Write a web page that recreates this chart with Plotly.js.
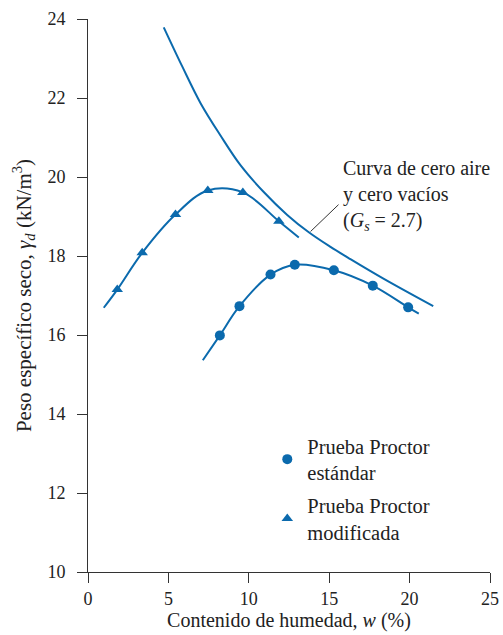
<!DOCTYPE html>
<html>
<head>
<meta charset="utf-8">
<script src="https://cdn.plot.ly/plotly-3.0.1.min.js"></script>
<style>html,body{margin:0;padding:0;background:#fff;}#chart{width:503px;height:635px;}</style>
</head>
<body>
<div id="chart"></div>
<script>
// Prueba Proctor estándar (puntos)
const stdW = [8.20, 9.42, 11.35, 12.86, 15.29, 17.71, 19.91];
const stdG = [15.99, 16.73, 17.53, 17.78, 17.64, 17.25, 16.70];
// Curva ajustada, Proctor estándar
const stdCurveW = [7.14, 8.20, 9.42, 11.35, 12.86, 15.29, 17.71, 19.91, 20.57];
const stdCurveG = [15.36, 15.99, 16.73, 17.53, 17.78, 17.64, 17.25, 16.70, 16.54];
// Prueba Proctor modificada (puntos)
const modW = [1.82, 3.37, 5.44, 7.45, 9.63, 11.87];
const modG = [17.15, 18.08, 19.05, 19.66, 19.61, 18.88];
// Curva ajustada, Proctor modificada
const modCurveW = [0.98, 1.82, 3.37, 5.44, 7.45, 9.63, 11.87, 13.11];
const modCurveG = [16.69, 17.15, 18.08, 19.05, 19.66, 19.61, 18.88, 18.47];
// Curva de cero aire y cero vacíos (Gs = 2.7)
const zavW = [4.71, 5.86, 7.00, 8.24, 9.48, 10.93, 12.39, 13.73, 15.08, 16.32, 18.40, 21.47];
const zavG = [23.79, 22.80, 21.87, 21.05, 20.30, 19.62, 19.04, 18.60, 18.23, 17.92, 17.42, 16.73];
// Ticks
const xTicks = [0, 5, 10, 15, 20, 25];
const yTicks = [10, 12, 14, 16, 18, 20, 22, 24];

const blue = '#0b6aad';
const font = 'Liberation Serif';

const traces = [
  {x: zavW, y: zavG, mode: 'lines', line: {color: blue, width: 2, shape: 'spline', smoothing: 1}, showlegend: false, hoverinfo: 'skip'},
  {x: modCurveW, y: modCurveG, mode: 'lines', line: {color: blue, width: 2, shape: 'spline'}, showlegend: false, hoverinfo: 'skip'},
  {x: stdCurveW, y: stdCurveG, mode: 'lines', line: {color: blue, width: 2, shape: 'spline'}, showlegend: false, hoverinfo: 'skip'},
  {x: stdW, y: stdG, mode: 'markers', name: 'Prueba Proctor<br>estándar', legendgroup: 'a',
   marker: {symbol: 'circle', size: 10, color: blue}},
  {x: modW, y: modG, mode: 'markers', name: 'Prueba Proctor<br>modificada', legendgroup: 'b',
   marker: {symbol: 'triangle-up', size: 10, color: blue}}
];

const axisCommon = {
  showline: true, linecolor: '#333', linewidth: 1, mirror: false,
  ticks: 'outside', ticklen: 10, tickwidth: 1, tickcolor: '#333',
  showgrid: false, zeroline: false,
  tickfont: {family: font, size: 18, color: '#222'}
};

const layout = {
  width: 503, height: 635,
  margin: {l: 88, r: 13, t: 19, b: 63},
  paper_bgcolor: '#fff', plot_bgcolor: '#fff',
  font: {family: font, color: '#222'},
  showlegend: true,
  legend: {x: 0.446, y: 0.264, xanchor: 'left', yanchor: 'top', bgcolor: 'rgba(0,0,0,0)',
           font: {family: font, size: 20.5, color: '#222'}, tracegroupgap: 3, traceorder: 'grouped'},
  xaxis: Object.assign({}, axisCommon, {
    range: [0, 25], tickvals: xTicks, ticktext: xTicks.map(String),
    title: {text: 'Contenido de humedad, <i>w</i> (%)', font: {family: font, size: 20, color: '#222'}, standoff: 3}
  }),
  yaxis: Object.assign({}, axisCommon, {
    range: [10, 24], tickvals: yTicks, ticktext: yTicks.map(String), ticklabelstandoff: 8,
    title: {text: 'Peso específico seco, <i>γ<sub>d</sub></i> (kN/m<sup>3</sup>)', font: {family: font, size: 21, color: '#222'}, standoff: 10}
  }),
  shapes: [
    {type: 'line', xref: 'x', yref: 'y', x0: 13.84, y0: 18.62, x1: 15.58, y1: 19.30, line: {color: '#333', width: 1}}
  ],
  annotations: [
    {xref: 'x', yref: 'y', x: 15.75, y: 19.53, xanchor: 'left', yanchor: 'middle', align: 'left', showarrow: false,
     text: 'Curva de cero aire<br>y cero vacíos<br>(<i>G<sub>s</sub></i> = 2.7)', font: {family: font, size: 20, color: '#222'}}
  ]
};

Plotly.newPlot('chart', traces, layout, {displayModeBar: false, staticPlot: true});
</script>
</body>
</html>
